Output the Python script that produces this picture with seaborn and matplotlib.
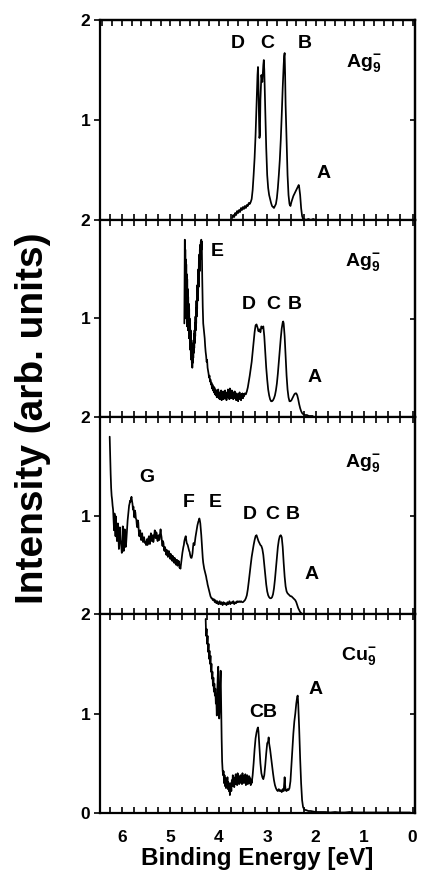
import matplotlib
matplotlib.use("Agg")
import matplotlib.pyplot as plt
import seaborn as sns
import pandas as pd
from matplotlib.ticker import MultipleLocator

# ---------------- data (binding energy [eV], intensity [arb. units]) ----------------
ag9_top = [(3.72,0.02),(3.70,0.05),(3.68,0.03),(3.66,0.07),(3.64,0.05),(3.62,0.09),(3.60,0.07),(3.58,0.10),
    (3.56,0.08),(3.54,0.12),(3.52,0.10),(3.50,0.13),(3.48,0.11),(3.46,0.14),(3.44,0.12),(3.42,0.15),(3.40,0.14),
    (3.38,0.17),(3.36,0.16),(3.34,0.18),(3.32,0.21),(3.30,0.30),(3.28,0.45),(3.26,0.62),(3.24,0.85),(3.22,1.15),
    (3.20,1.45),(3.19,1.53),(3.18,1.35),(3.17,1.05),(3.16,0.82),(3.15,0.85),(3.14,1.20),(3.12,1.45),(3.10,1.38),
    (3.08,1.55),(3.07,1.60),(3.06,1.50),(3.04,1.10),(3.02,0.72),(3.00,0.45),(2.98,0.32),(2.96,0.25),(2.94,0.21),
    (2.92,0.17),(2.90,0.14),(2.88,0.13),(2.86,0.12),(2.84,0.14),(2.82,0.16),(2.80,0.22),(2.78,0.32),(2.76,0.45),
    (2.74,0.60),(2.72,0.80),(2.70,1.05),(2.68,1.32),(2.66,1.55),(2.65,1.64),(2.64,1.67),(2.63,1.45),(2.62,1.15),
    (2.60,0.80),(2.58,0.45),(2.56,0.25),(2.54,0.16),(2.52,0.14),(2.50,0.18),(2.48,0.21),(2.46,0.24),(2.44,0.26),
    (2.42,0.28),(2.40,0.30),(2.38,0.32),(2.36,0.34),(2.35,0.35),(2.34,0.33),(2.32,0.25),(2.30,0.12),(2.28,0.04),
    (2.26,0.01),(2.24,0.01),(2.20,0.00),(2.15,0.01),(2.10,0.00),(2.05,0.01),(2.00,0.00),(1.96,0.00)]

ag9_mid = [(4.71,0.95),(4.70,1.80),(4.695,1.05),(4.69,1.70),(4.685,1.25),(4.68,1.60),(4.675,1.00),(4.67,1.55),
    (4.665,1.10),(4.66,1.45),(4.655,0.92),(4.65,1.40),(4.645,1.05),(4.64,1.30),(4.635,0.88),(4.63,1.22),(4.625,0.95),
    (4.62,1.15),(4.615,0.80),(4.61,1.10),(4.605,0.85),(4.60,1.00),(4.595,0.72),(4.59,0.95),(4.585,0.68),(4.58,0.88),
    (4.575,0.62),(4.57,0.80),(4.565,0.58),(4.56,0.75),(4.555,0.55),(4.55,0.70),(4.545,0.50),(4.54,0.68),(4.535,0.55),
    (4.53,0.72),(4.525,0.60),(4.52,0.78),(4.515,0.65),(4.51,0.84),(4.505,0.70),(4.50,0.88),(4.495,0.75),(4.49,0.95),
    (4.485,0.82),(4.48,1.02),(4.475,0.88),(4.47,1.10),(4.465,0.95),(4.46,1.18),(4.455,1.02),(4.45,1.26),(4.445,1.10),
    (4.44,1.34),(4.435,1.18),(4.43,1.42),(4.425,1.25),(4.42,1.50),(4.415,1.32),(4.41,1.58),(4.405,1.40),(4.40,1.65),
    (4.395,1.48),(4.39,1.70),(4.385,1.55),(4.38,1.75),(4.375,1.60),(4.37,1.78),(4.365,1.65),(4.36,1.80),(4.355,1.70),
    (4.35,1.78),(4.345,1.55),(4.34,1.40),(4.335,1.25),(4.33,1.12),(4.325,1.02),(4.32,0.95),(4.31,0.90),(4.30,0.86),
    (4.29,0.80),(4.28,0.72),(4.27,0.66),(4.26,0.62),(4.25,0.56),(4.24,0.58),(4.23,0.50),(4.22,0.47),(4.21,0.44),
    (4.20,0.40),(4.19,0.42),(4.18,0.36),(4.17,0.38),(4.16,0.33),(4.15,0.35),(4.14,0.29),(4.13,0.33),(4.12,0.27),
    (4.11,0.31),(4.10,0.25),(4.09,0.30),(4.08,0.23),(4.07,0.28),(4.06,0.22),(4.05,0.27),(4.04,0.20),(4.03,0.26),
    (4.02,0.21),(4.01,0.28),(4.00,0.19),(3.99,0.25),(3.98,0.18),(3.97,0.24),(3.96,0.20),(3.95,0.27),(3.94,0.17),
    (3.93,0.23),(3.92,0.19),(3.91,0.26),(3.90,0.18),(3.89,0.24),(3.88,0.21),(3.87,0.27),(3.86,0.19),(3.85,0.25),
    (3.84,0.17),(3.83,0.23),(3.82,0.20),(3.81,0.28),(3.80,0.21),(3.79,0.26),(3.78,0.18),(3.77,0.29),(3.76,0.22),
    (3.75,0.25),(3.74,0.19),(3.73,0.27),(3.72,0.21),(3.71,0.24),(3.70,0.18),(3.69,0.25),(3.68,0.20),(3.67,0.26),
    (3.66,0.19),(3.65,0.23),(3.64,0.17),(3.63,0.24),(3.62,0.18),(3.61,0.22),(3.60,0.16),(3.59,0.23),(3.58,0.19),
    (3.57,0.25),(3.56,0.18),(3.55,0.22),(3.54,0.17),(3.53,0.23),(3.52,0.20),(3.51,0.24),(3.50,0.19),(3.49,0.23),
    (3.48,0.21),(3.46,0.24),(3.44,0.23),(3.42,0.26),(3.40,0.30),(3.38,0.36),(3.36,0.42),(3.34,0.49),(3.32,0.56),
    (3.30,0.66),(3.28,0.76),(3.26,0.86),(3.24,0.93),(3.22,0.94),(3.20,0.91),(3.18,0.87),(3.16,0.89),(3.14,0.86),
    (3.12,0.92),(3.10,0.90),(3.08,0.92),(3.06,0.82),(3.04,0.66),(3.02,0.50),(3.00,0.38),(2.98,0.28),(2.96,0.22),
    (2.94,0.18),(2.92,0.16),(2.90,0.16),(2.88,0.17),(2.86,0.19),(2.84,0.22),(2.82,0.27),(2.80,0.34),(2.78,0.44),
    (2.76,0.56),(2.74,0.68),(2.72,0.80),(2.70,0.90),(2.68,0.96),(2.67,0.97),(2.66,0.95),(2.64,0.82),(2.62,0.62),
    (2.60,0.42),(2.58,0.28),(2.56,0.20),(2.54,0.16),(2.52,0.16),(2.50,0.17),(2.48,0.19),(2.46,0.21),(2.44,0.23),
    (2.42,0.24),(2.40,0.24),(2.38,0.22),(2.36,0.18),(2.34,0.13),(2.32,0.09),(2.30,0.06),(2.28,0.04),(2.26,0.03),
    (2.22,0.02),(2.18,0.02),(2.14,0.01),(2.10,0.01),(2.06,0.01)]

ag9_low = [(6.25,1.80),(6.24,1.60),(6.23,1.42),(6.22,1.28),(6.21,1.20),(6.20,1.16),(6.19,1.10),(6.18,1.06),
    (6.17,0.95),(6.16,0.85),(6.15,1.02),(6.14,0.90),(6.13,0.79),(6.12,0.99),(6.11,0.82),(6.10,0.74),(6.09,0.86),
    (6.08,0.92),(6.07,0.78),(6.06,0.66),(6.05,0.80),(6.04,0.88),(6.03,0.75),(6.02,0.72),(6.01,0.68),(6.00,0.62),
    (5.99,0.75),(5.98,0.89),(5.97,0.72),(5.96,0.64),(5.95,0.78),(5.94,0.86),(5.93,0.74),(5.92,0.68),(5.91,0.72),
    (5.90,0.80),(5.89,0.88),(5.88,0.95),(5.87,1.00),(5.86,1.06),(5.85,1.10),(5.84,1.12),(5.83,1.15),(5.82,1.14),
    (5.81,1.17),(5.80,1.19),(5.79,1.15),(5.78,1.12),(5.77,1.06),(5.76,1.09),(5.75,1.02),(5.74,0.98),(5.73,1.05),
    (5.72,1.03),(5.71,0.97),(5.70,0.96),(5.69,0.90),(5.68,0.88),(5.67,0.95),(5.66,0.93),(5.65,0.84),(5.64,0.79),
    (5.63,0.82),(5.62,0.85),(5.61,0.78),(5.60,0.75),(5.59,0.80),(5.58,0.82),(5.57,0.76),(5.56,0.73),(5.55,0.77),
    (5.54,0.78),(5.53,0.74),(5.52,0.72),(5.51,0.73),(5.50,0.70),(5.49,0.74),(5.48,0.76),(5.47,0.70),(5.46,0.72),
    (5.45,0.77),(5.44,0.79),(5.43,0.74),(5.42,0.71),(5.41,0.76),(5.40,0.82),(5.39,0.78),(5.38,0.74),(5.37,0.79),
    (5.36,0.80),(5.35,0.73),(5.34,0.76),(5.33,0.81),(5.32,0.85),(5.31,0.80),(5.30,0.77),(5.29,0.83),(5.28,0.82),
    (5.27,0.76),(5.26,0.74),(5.25,0.79),(5.24,0.80),(5.23,0.75),(5.22,0.76),(5.21,0.82),(5.20,0.86),(5.19,0.81),
    (5.18,0.78),(5.17,0.72),(5.16,0.69),(5.15,0.74),(5.14,0.72),(5.13,0.66),(5.12,0.64),(5.11,0.68),(5.10,0.66),
    (5.09,0.62),(5.08,0.60),(5.07,0.65),(5.06,0.63),(5.05,0.58),(5.04,0.59),(5.03,0.64),(5.02,0.62),(5.01,0.57),
    (5.00,0.56),(4.99,0.61),(4.98,0.60),(4.97,0.55),(4.96,0.54),(4.95,0.59),(4.94,0.58),(4.93,0.53),(4.92,0.52),
    (4.91,0.57),(4.90,0.56),(4.89,0.51),(4.88,0.50),(4.87,0.55),(4.86,0.55),(4.85,0.49),(4.84,0.50),(4.83,0.54),
    (4.82,0.53),(4.81,0.47),(4.80,0.48),(4.79,0.46),(4.78,0.50),(4.77,0.54),(4.76,0.58),(4.75,0.62),(4.74,0.65),
    (4.73,0.68),(4.72,0.70),(4.71,0.74),(4.70,0.76),(4.69,0.78),(4.68,0.79),(4.67,0.75),(4.66,0.72),(4.65,0.71),
    (4.64,0.70),(4.63,0.68),(4.62,0.66),(4.61,0.64),(4.60,0.63),(4.59,0.60),(4.58,0.58),(4.57,0.57),(4.56,0.57),
    (4.55,0.59),(4.54,0.62),(4.53,0.68),(4.52,0.72),(4.51,0.71),(4.50,0.70),(4.49,0.74),(4.48,0.78),(4.47,0.81),
    (4.46,0.84),(4.45,0.87),(4.44,0.90),(4.43,0.92),(4.42,0.94),(4.41,0.95),(4.40,0.97),(4.39,0.95),(4.38,0.92),
    (4.37,0.86),(4.36,0.80),(4.35,0.72),(4.34,0.64),(4.33,0.57),(4.32,0.52),(4.31,0.49),(4.30,0.46),(4.29,0.44),
    (4.28,0.42),(4.27,0.40),(4.26,0.38),(4.25,0.35),(4.24,0.33),(4.23,0.30),(4.22,0.28),(4.21,0.26),(4.20,0.24),
    (4.19,0.22),(4.18,0.20),(4.17,0.18),(4.16,0.17),(4.15,0.16),(4.14,0.16),(4.13,0.15),(4.12,0.14),(4.11,0.15),
    (4.10,0.15),(4.09,0.13),(4.08,0.12),(4.07,0.14),(4.06,0.13),(4.05,0.11),(4.04,0.11),(4.03,0.13),(4.02,0.12),
    (4.01,0.10),(4.00,0.10),(3.98,0.13),(3.96,0.10),(3.94,0.12),(3.92,0.09),(3.90,0.12),(3.88,0.10),(3.86,0.11),
    (3.84,0.09),(3.82,0.12),(3.80,0.10),(3.78,0.13),(3.76,0.10),(3.74,0.12),(3.72,0.11),(3.70,0.13),(3.68,0.10),
    (3.66,0.12),(3.64,0.11),(3.62,0.13),(3.60,0.12),(3.58,0.13),(3.56,0.12),(3.54,0.13),(3.52,0.12),(3.50,0.12),
    (3.48,0.13),(3.46,0.14),(3.44,0.16),(3.42,0.19),(3.40,0.25),(3.38,0.33),(3.36,0.42),(3.34,0.50),(3.32,0.58),
    (3.30,0.64),(3.28,0.70),(3.26,0.75),(3.24,0.79),(3.22,0.80),(3.20,0.77),(3.18,0.74),(3.16,0.72),(3.14,0.70),
    (3.12,0.69),(3.10,0.66),(3.08,0.60),(3.06,0.50),(3.04,0.40),(3.02,0.30),(3.00,0.23),(2.98,0.19),(2.96,0.17),
    (2.94,0.16),(2.92,0.16),(2.90,0.17),(2.88,0.20),(2.86,0.26),(2.84,0.35),(2.82,0.46),(2.80,0.58),(2.78,0.68),
    (2.76,0.75),(2.74,0.79),(2.72,0.80),(2.70,0.78),(2.68,0.68),(2.66,0.52),(2.64,0.38),(2.62,0.28),(2.60,0.23),
    (2.58,0.21),(2.56,0.20),(2.54,0.19),(2.52,0.18),(2.50,0.18),(2.48,0.17),(2.46,0.16),(2.44,0.15),(2.42,0.14),
    (2.40,0.12),(2.38,0.09),(2.36,0.06),(2.34,0.04),(2.32,0.02),(2.30,0.01),(2.28,0.00)]

cu9 = [(4.27,1.95),(4.26,1.78),(4.25,1.85),(4.24,1.70),(4.23,1.78),(4.22,1.62),(4.21,1.70),(4.20,1.55),
    (4.19,1.63),(4.18,1.50),(4.17,1.58),(4.16,1.42),(4.15,1.50),(4.14,1.35),(4.13,1.42),(4.12,1.28),(4.11,1.36),
    (4.10,1.22),(4.09,1.30),(4.08,1.18),(4.07,1.25),(4.06,1.10),(4.05,1.15),(4.04,0.98),(4.03,1.22),(4.02,1.38),
    (4.01,1.47),(4.00,1.10),(3.99,0.95),(3.98,1.05),(3.97,1.30),(3.96,1.43),(3.95,1.10),(3.94,0.75),(3.93,0.52),
    (3.92,0.43),(3.91,0.38),(3.90,0.42),(3.89,0.30),(3.88,0.38),(3.87,0.27),(3.86,0.35),(3.85,0.25),(3.84,0.33),
    (3.83,0.28),(3.82,0.36),(3.81,0.24),(3.80,0.31),(3.79,0.22),(3.78,0.29),(3.77,0.18),(3.76,0.27),(3.75,0.30),
    (3.74,0.22),(3.73,0.33),(3.72,0.27),(3.71,0.38),(3.70,0.30),(3.69,0.36),(3.68,0.26),(3.67,0.34),(3.66,0.29),
    (3.65,0.39),(3.64,0.31),(3.63,0.36),(3.62,0.28),(3.61,0.40),(3.60,0.32),(3.59,0.37),(3.58,0.29),(3.57,0.35),
    (3.56,0.31),(3.55,0.38),(3.54,0.30),(3.53,0.36),(3.52,0.29),(3.51,0.40),(3.50,0.33),(3.49,0.37),(3.48,0.30),
    (3.47,0.36),(3.46,0.32),(3.45,0.39),(3.44,0.28),(3.43,0.35),(3.42,0.31),(3.41,0.38),(3.40,0.29),(3.39,0.36),
    (3.38,0.32),(3.37,0.37),(3.36,0.30),(3.35,0.35),(3.34,0.28),(3.33,0.33),(3.32,0.30),(3.30,0.38),(3.28,0.50),
    (3.26,0.64),(3.24,0.75),(3.22,0.81),(3.20,0.85),(3.19,0.86),(3.18,0.82),(3.16,0.66),(3.14,0.50),(3.12,0.40),
    (3.10,0.36),(3.08,0.34),(3.06,0.38),(3.04,0.48),(3.02,0.60),(3.00,0.70),(2.98,0.72),(2.97,0.76),(2.96,0.70),
    (2.94,0.64),(2.92,0.56),(2.90,0.48),(2.88,0.40),(2.86,0.33),(2.84,0.28),(2.82,0.25),(2.80,0.23),(2.78,0.22),
    (2.76,0.24),(2.74,0.22),(2.72,0.23),(2.70,0.21),(2.68,0.24),(2.66,0.22),(2.64,0.36),(2.63,0.28),(2.62,0.23),
    (2.60,0.22),(2.58,0.24),(2.56,0.23),(2.54,0.25),(2.52,0.32),(2.50,0.48),(2.48,0.64),(2.46,0.80),(2.44,0.92),
    (2.42,1.00),(2.40,1.10),(2.38,1.17),(2.37,1.18),(2.36,1.10),(2.34,0.85),(2.32,0.55),(2.30,0.30),(2.28,0.13),
    (2.26,0.06),(2.24,0.04),(2.22,0.03),(2.20,0.03),(2.15,0.02),(2.10,0.02),(2.00,0.01),(1.90,0.01),(1.80,0.01),
    (1.70,0.005),(1.60,0.01),(1.50,0.005),(1.40,0.005),(1.30,0.01),(1.20,0.005),(1.10,0.005),(1.00,0.005),
    (0.90,0.005),(0.80,0.005),(0.70,0.005),(0.60,0.005),(0.50,0.005),(0.40,0.005),(0.30,0.005),(0.20,0.005),
    (0.10,0.005),(0.05,0.005)]

spectra = [ag9_top, ag9_mid, ag9_low, cu9]

# peak labels per panel: (text, energy, intensity)
ag_label = r"Ag$_{9}^{-}$"
cu_label = r"Cu$_{9}^{-}$"
labels = [
    [("D", 3.60, 1.77), ("C", 3.00, 1.77), ("B", 2.22, 1.77), (ag_label, 1.00, 1.57), ("A", 1.83, 0.47)],
    [("E", 4.04, 1.68), (ag_label, 1.02, 1.57), ("D", 3.39, 1.14), ("C", 2.88, 1.14), ("B", 2.43, 1.14), ("A", 2.03, 0.40)],
    [(ag_label, 1.02, 1.53), ("G", 5.48, 1.39), ("F", 4.61, 1.13), ("E", 4.08, 1.13), ("D", 3.37, 1.01),
     ("C", 2.90, 1.01), ("B", 2.47, 1.01), ("A", 2.08, 0.40)],
    [(cu_label, 1.11, 1.58), ("A", 2.01, 1.24), ("CB", 3.09, 1.01)],
]
ytick_sets = [[1, 2], [1, 2], [1, 2], [0, 1, 2]]

# ---------------- styling ----------------
sns.set_theme(style="ticks")
plt.rcParams["font.family"] = ["Liberation Sans", "DejaVu Sans"]
plt.rcParams["font.weight"] = "bold"
plt.rcParams["axes.labelweight"] = "bold"
plt.rcParams["text.color"] = "black"
plt.rcParams["axes.labelcolor"] = "black"
plt.rcParams["xtick.color"] = "black"
plt.rcParams["ytick.color"] = "black"
plt.rcParams["xtick.labelcolor"] = "black"
plt.rcParams["ytick.labelcolor"] = "black"
plt.rcParams["axes.edgecolor"] = "black"
plt.rcParams["mathtext.fontset"] = "custom"
plt.rcParams["mathtext.rm"] = "Liberation Sans:bold"
plt.rcParams["mathtext.it"] = "Liberation Sans:bold"
plt.rcParams["mathtext.bf"] = "Liberation Sans:bold"

W, H = 422, 888
fig = plt.figure(figsize=(W / 100, H / 100), dpi=100)
bounds = [20, 220, 417, 614, 813]
left_px, right_px = 100, 415

for k, spec in enumerate(spectra):
    top, bot = bounds[k], bounds[k + 1]
    ax = fig.add_axes([left_px / W, 1 - bot / H, (right_px - left_px) / W, (bot - top) / H])
    df = pd.DataFrame(spec, columns=["energy", "intensity"])
    sns.lineplot(data=df, x="energy", y="intensity", ax=ax, color="black", linewidth=1.25,
                 estimator=None, sort=False, legend=False)
    ax.set_xlim(6.45, -0.05)
    ax.set_ylim(0, 2)
    ax.set_xlabel("")
    ax.set_ylabel("")
    for sp in ax.spines.values():
        sp.set_visible(True)
        sp.set_linewidth(1.6)
        sp.set_color("black")
    ax.xaxis.set_major_locator(MultipleLocator(1))
    ax.xaxis.set_minor_locator(MultipleLocator(0.25))
    ax.tick_params(axis="x", which="both", direction="in", bottom=True, top=(k > 0),
                   length=4.5, width=1.2, color="black", labelcolor="black",
                   labelbottom=(k == 3), labeltop=False, labelsize=12.5, pad=12)
    ax.set_yticks(ytick_sets[k])
    ax.tick_params(axis="y", which="major", direction="out", left=True, right=False,
                   length=4, width=1.2, color="black", labelcolor="black", labelsize=12.5, pad=3)
    ax.tick_params(axis="y", which="minor", left=False, right=False)
    # small inward tick on the right frame
    sec_y = ax.secondary_yaxis("right")
    sec_y.set_yticks([1])
    sec_y.tick_params(direction="in", length=3.5, width=1.2, color="black", labelright=False)
    sec_y.spines["right"].set_linewidth(1.6)
    sec_y.spines["right"].set_color("black")
    if k == 0:
        sec_x = ax.secondary_xaxis("top")
        sec_x.xaxis.set_major_locator(MultipleLocator(0.2))
        sec_x.tick_params(direction="in", length=4, width=1.2, color="black", labeltop=False)
        sec_x.spines["top"].set_linewidth(1.6)
        sec_x.spines["top"].set_color("black")
    for txt, xv, yv in labels[k]:
        ax.text(xv, yv, txt, ha="center", va="center", fontsize=14, fontweight="bold", color="black")
    if k == 3:
        ax.set_xlabel("Binding Energy [eV]", fontsize=17.5, fontweight="bold", color="black", labelpad=2)

fig.text(33 / W, 1 - 418 / H, "Intensity (arb. units)", rotation=90, ha="center", va="center",
         fontsize=28, fontweight="bold", color="black")

fig.savefig("out.png", dpi=100, facecolor="white")
